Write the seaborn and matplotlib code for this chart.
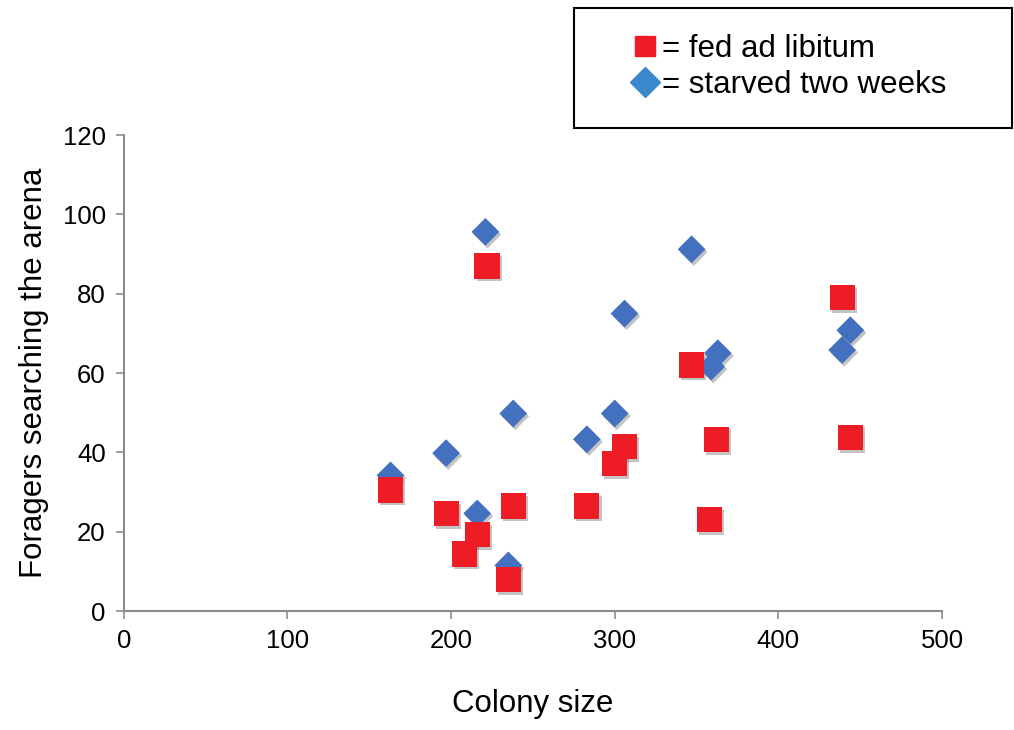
import pandas as pd
import numpy as np
import matplotlib
matplotlib.use("Agg")
import matplotlib.pyplot as plt
import matplotlib.patheffects as pe
from matplotlib.lines import Line2D
from matplotlib.patches import Rectangle
import seaborn as sns

# starved two weeks (blue diamonds)
starved_size = [221, 347, 306, 363, 359, 444, 439, 238, 300, 283, 197, 163, 216, 235]
starved_foragers = [95.6, 91.2, 75, 65, 61.6, 70.8, 65.8, 49.8, 49.8, 43.3, 39.8, 34.2, 24.6, 11.5]
# fed ad libitum (red squares)
fed_size = [222, 347, 163, 197, 238, 283, 306, 300, 216, 208, 235, 439, 362, 444, 358]
fed_foragers = [87, 62, 30.5, 24.6, 26.5, 26.5, 41.4, 37.2, 19.2, 14.4, 8, 79, 43.3, 43.8, 23]

labels = ["starved two weeks", "fed ad libitum"]
legend_text = ["= fed ad libitum", "= starved two weeks"]

df = pd.concat([
    pd.DataFrame({"size": starved_size, "foragers": starved_foragers, "group": labels[0]}),
    pd.DataFrame({"size": fed_size, "foragers": fed_foragers, "group": labels[1]}),
], ignore_index=True)

sns.set_style("white")
plt.rcParams["font.family"] = ["Liberation Sans", "DejaVu Sans"]
plt.rcParams["text.color"] = "black"
plt.rcParams["axes.labelcolor"] = "black"

fig = plt.figure(figsize=(10.14, 7.3), dpi=100)
ax = fig.add_axes([0.122, 0.163, 0.807, 0.652])

sns.scatterplot(data=df, x="size", y="foragers", hue="group", style="group", size="group",
                palette={labels[0]: "#4470C0", labels[1]: "#EE1C25"},
                markers={labels[0]: "D", labels[1]: "s"},
                sizes={labels[0]: 200, labels[1]: 330},
                linewidth=0, legend=False, ax=ax)
for coll in ax.collections:
    coll.set_path_effects([pe.SimplePatchShadow(offset=(1.5, -2), alpha=0.35, shadow_rgbFace="#555555"),
                           pe.Normal()])

ax.set_xlim(0, 500)
ax.set_ylim(0, 120)
ax.set_xticks(np.arange(0, 501, 100))
ax.set_yticks(np.arange(0, 121, 20))
ax.tick_params(axis="both", labelsize=18.5, labelcolor="black", length=6, width=1.2,
               direction="out", bottom=True, left=True, pad=7, color="#8c8c8c")
for side in ["top", "right"]:
    ax.spines[side].set_visible(False)
for side in ["left", "bottom"]:
    ax.spines[side].set_color("#8c8c8c")
    ax.spines[side].set_linewidth(1.5)

ax.set_xlabel("Colony size", fontsize=22.5, labelpad=26, color="black")
ax.set_ylabel("Foragers searching the arena", fontsize=22.5, labelpad=10, color="black")

# legend box
fig.patches.append(Rectangle((574 / 1014, 1 - 128 / 730), 438 / 1014, 120 / 730,
                             transform=fig.transFigure, facecolor="white",
                             edgecolor="black", linewidth=1.5, zorder=5))
handles = [
    Line2D([], [], marker="s", color="#EE1C25", linestyle="none", markersize=15),
    Line2D([], [], marker="D", color="#3A88CC", linestyle="none", markersize=15),
]
leg = fig.legend(handles, legend_text, loc="upper left",
                 bbox_to_anchor=(614 / 1014, 1 - 18 / 730), frameon=False,
                 fontsize=22.5, handletextpad=0.05, handlelength=1.0, labelspacing=0.2,
                 borderpad=0)
for t in leg.get_texts():
    t.set_color("black")
leg.set_zorder(6)

fig.savefig("out.png", dpi=100)
